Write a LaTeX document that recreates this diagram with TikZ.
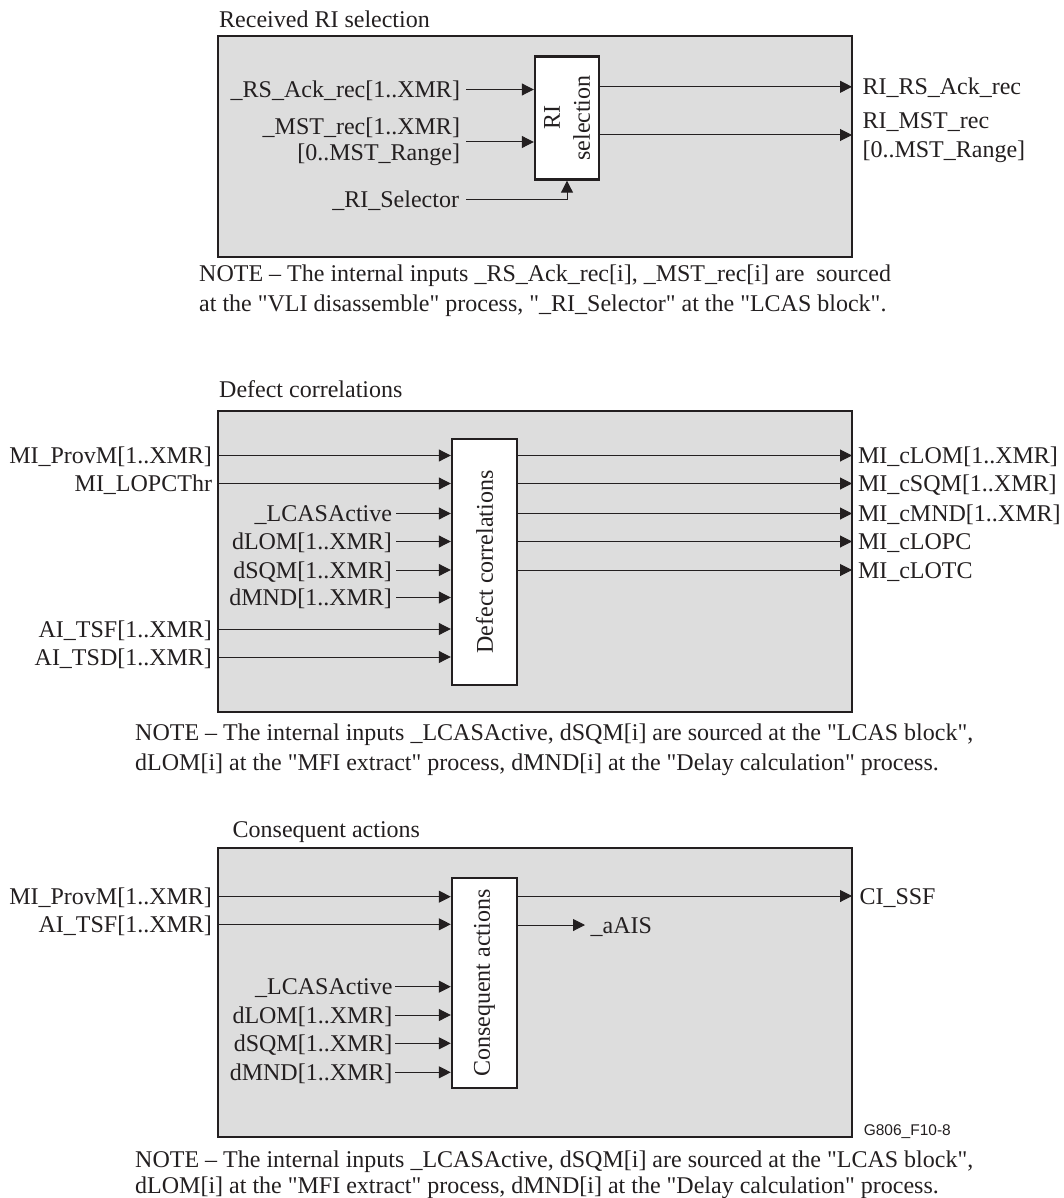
\documentclass[tikz,border=0pt]{standalone}
\usepackage{fontspec}
\setmainfont{Liberation Serif}[Ligatures=TeXOff]
\newfontfamily\figsans{Liberation Sans}
\usetikzlibrary{arrows.meta}
\definecolor{panelfill}{RGB}{221,221,221}
\definecolor{ink}{RGB}{35,31,32}
\begin{document}
\begin{tikzpicture}[x=1pt,y=-1pt,
  every node/.style={font=\fontsize{24}{27}\selectfont, text=ink},
  panel/.style={draw=ink, fill=panelfill, line width=1.3pt, inner sep=0pt},
  fblock/.style={draw=ink, fill=white, line width=2.4pt, inner sep=0pt},
  blocktext/.style={rotate=90, align=center, inner sep=0pt},
  arr/.style={draw=ink, line width=1pt, -{Triangle[length=12pt,width=12pt]}},
  lblin/.style={anchor=east, inner sep=0pt, outer ysep=0pt, text height=16pt, text depth=0pt},
  lblout/.style={anchor=west, inner sep=0pt, outer ysep=0pt, text height=16pt, text depth=0pt},
  paneltitle/.style={anchor=base west, inner sep=0pt},
  notetext/.style={anchor=north west, inner sep=0pt, align=left},
]
\useasboundingbox (0,0) rectangle (1063,1198);

% ---------------- Received RI selection ----------------
\node[panel, minimum width=634, minimum height=221] (p1) at (535,146.5) {};
\node[paneltitle] (t1) at (219,28) {Received RI selection};
\node[fblock, minimum width=64, minimum height=123] (b1) at (567,118) {};
\node[blocktext, font=\fontsize{24}{30}\selectfont] (b1t) at (b1.center) {RI\\selection};

\node[lblin, outer xsep=6pt] (rs) at (466,89.5) {\_RS\_Ack\_rec[1..XMR]};
\draw[arr] (rs.east) -- (rs.east -| b1.west);
\node[anchor=east, inner sep=0pt, outer xsep=6pt, align=right, font=\fontsize{24}{26}\selectfont] (mst) at (466,142) {\_MST\_rec[1..XMR]\\{[}0..MST\_Range]};
\draw[arr] (mst.east) -- (mst.east -| b1.west);
\node[lblin, outer xsep=7pt] (sel) at (466,199.5) {\_RI\_Selector};
\draw[arr] (sel.east) -| (b1.south);

\node[lblout, outer xsep=10.5pt] (rsack) at (852,86.8) {RI\_RS\_Ack\_rec};
\draw[arr] (b1.east |- rsack.west) -- (rsack.west);
\node[anchor=west, inner sep=0pt, outer xsep=10.5pt, align=left, font=\fontsize{24}{29}\selectfont] (mstout) at (852,138) {RI\_MST\_rec\\{[}0..MST\_Range]};
\coordinate (mo) at (852,135);
\draw[arr] (b1.east |- mo) -- (mo);

\node[notetext, font=\fontsize{24}{30}\selectfont] (n1) at (199,265) {NOTE – The internal inputs \_RS\_Ack\_rec[i], \_MST\_rec[i] are\ \ sourced\\at the "VLI disassemble" process, "\_RI\_Selector" at the "LCAS block".};

% ---------------- Defect correlations ----------------
\node[panel, minimum width=634, minimum height=301] (p2) at (535,561.5) {};
\node[paneltitle] (t2) at (219,397) {Defect correlations};
\node[fblock, minimum width=65, minimum height=246] (b2) at (484.5,562) {};
\node[blocktext] (b2t) at (b2.center) {Defect correlations};

\node[lblin, outer xsep=6pt] (dprov) at (218,455.5) {MI\_ProvM[1..XMR]};
\node[lblin, outer xsep=6pt] (dlopc) at (218,483.5) {MI\_LOPCThr};
\node[lblin, outer xsep=6pt] (dtsf) at (218,629) {AI\_TSF[1..XMR]};
\node[lblin, outer xsep=6pt] (dtsd) at (218,657) {AI\_TSD[1..XMR]};
\node[lblin, outer xsep=4pt] (dlcas) at (396,513.5) {\_LCASActive};
\node[lblin, outer xsep=4pt] (dlom) at (396,541.5) {dLOM[1..XMR]};
\node[lblin, outer xsep=4pt] (dsqm) at (396,570) {dSQM[1..XMR]};
\node[lblin, outer xsep=4pt] (dmnd) at (396,597.5) {dMND[1..XMR]};
\foreach \s in {dprov,dlopc,dtsf,dtsd,dlcas,dlom,dsqm,dmnd}
  \draw[arr] (\s.east) -- (\s.east -| b2.west);

\node[lblout, outer xsep=6pt] (oclom) at (852,455.5) {MI\_cLOM[1..XMR]};
\node[lblout, outer xsep=6pt] (ocsqm) at (852,483.5) {MI\_cSQM[1..XMR]};
\node[lblout, outer xsep=6pt] (ocmnd) at (852,513.5) {MI\_cMND[1..XMR]};
\node[lblout, outer xsep=6pt] (oclopc) at (852,541.5) {MI\_cLOPC};
\node[lblout, outer xsep=6pt] (oclotc) at (852,570) {MI\_cLOTC};
\foreach \s in {oclom,ocsqm,ocmnd,oclopc,oclotc}
  \draw[arr] (b2.east |- \s.west) -- (\s.west);

\node[notetext, font=\fontsize{24}{30}\selectfont] (n2) at (135,723.5) {NOTE – The internal inputs \_LCASActive, dSQM[i] are sourced at the "LCAS block",\\dLOM[i] at the "MFI extract" process, dMND[i] at the "Delay calculation" process.};

% ---------------- Consequent actions ----------------
\node[panel, minimum width=634, minimum height=289] (p3) at (535,992.5) {};
\node[paneltitle] (t3) at (232.5,837) {Consequent actions};
\node[fblock, minimum width=65, minimum height=210] (b3) at (484.5,983) {};
\node[blocktext] (b3t) at (b3.center) {Consequent actions};

\node[lblin, outer xsep=6pt] (cprov) at (218,896.7) {MI\_ProvM[1..XMR]};
\node[lblin, outer xsep=6pt] (ctsf) at (218,924.3) {AI\_TSF[1..XMR]};
\node[lblin, outer xsep=2.5pt] (clcas) at (395,986.7) {\_LCASActive};
\node[lblin, outer xsep=2.5pt] (clom) at (395,1015) {dLOM[1..XMR]};
\node[lblin, outer xsep=2.5pt] (csqm) at (395,1043.3) {dSQM[1..XMR]};
\node[lblin, outer xsep=2.5pt] (cmnd) at (395,1072.3) {dMND[1..XMR]};
\foreach \s in {cprov,ctsf,clcas,clom,csqm,cmnd}
  \draw[arr] (\s.east) -- (\s.east -| b3.west);

\node[lblout, outer xsep=7.5pt] (cssf) at (852,896) {CI\_SSF};
\draw[arr] (b3.east |- cssf.west) -- (cssf.west);
\node[lblout, outer xsep=5.7pt] (aais) at (585,925) {\_aAIS};
\draw[arr] (b3.east |- aais.west) -- (aais.west);

\node[anchor=west, inner sep=0pt, font=\figsans\fontsize{15.5}{18}\selectfont] (fig) at (863.6,1131.7) {G806\_F10-8};

\node[notetext, font=\fontsize{24}{26}\selectfont] (n3) at (135,1150.5) {NOTE – The internal inputs \_LCASActive, dSQM[i] are sourced at the "LCAS block",\\dLOM[i] at the "MFI extract" process, dMND[i] at the "Delay calculation" process.};
\end{tikzpicture}
\end{document}
